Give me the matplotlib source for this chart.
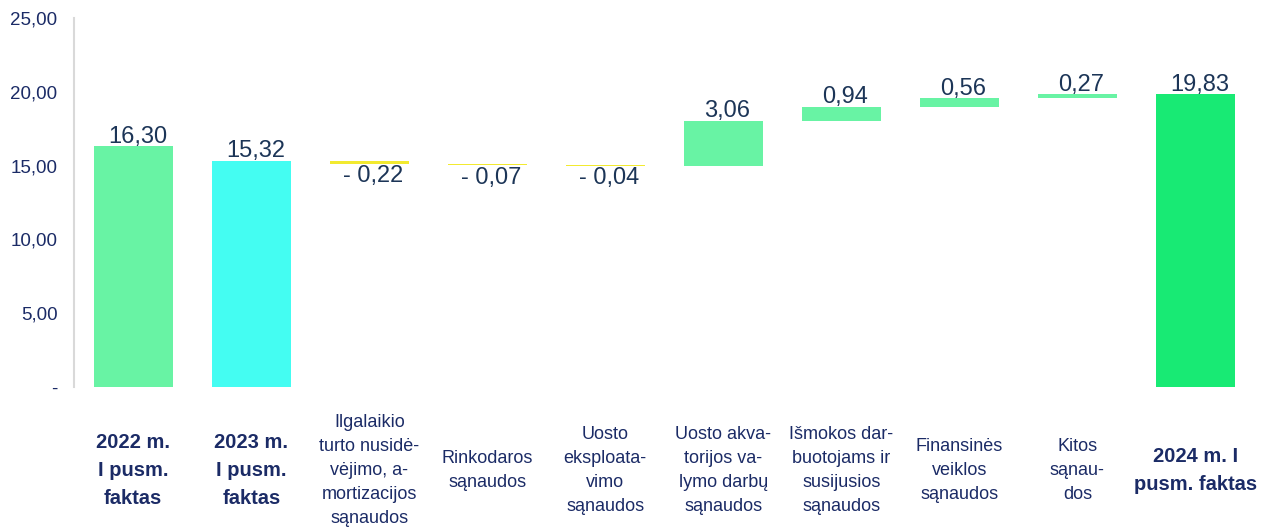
import matplotlib.pyplot as plt

categories = [
    "2022 m.\nI pusm.\nfaktas",
    "2023 m.\nI pusm.\nfaktas",
    "Ilgalaikio\nturto nusidė-\nvėjimo, a-\nmortizacijos\nsąnaudos",
    "Rinkodaros\nsąnaudos",
    "Uosto\neksploata-\nvimo\nsąnaudos",
    "Uosto akva-\ntorijos va-\nlymo darbų\nsąnaudos",
    "Išmokos dar-\nbuotojams ir\nsusijusios\nsąnaudos",
    "Finansinės\nveiklos\nsąnaudos",
    "Kitos\nsąnau-\ndos",
    "2024 m. I\npusm. faktas",
]
values = [16.30, 15.32, -0.22, -0.07, -0.04, 3.06, 0.94, 0.56, 0.27, 19.83]
is_total = [True, True, False, False, False, False, False, False, False, True]
bar_colors = ["#68F3A4", "#44FDF2", "#F2EA30", "#F2EA30", "#F2EA30",
              "#68F3A4", "#68F3A4", "#68F3A4", "#68F3A4", "#18EA74"]
yticks = [0, 5, 10, 15, 20, 25]
ytick_labels = ["-", "5,00", "10,00", "15,00", "20,00", "25,00"]

navy = "#1B2B66"
label_col = "#1C3557"
plt.rcParams['font.family'] = ['Liberation Sans', 'DejaVu Sans']

# waterfall bottoms
bottoms = []
running = 0.0
for i, v in enumerate(values):
    if is_total[i]:
        bottoms.append(0.0)
        running = v
    else:
        if v >= 0:
            bottoms.append(running)
        else:
            bottoms.append(running + v)
        running += v
heights = [abs(v) for v in values]

fig = plt.figure(figsize=(12.8, 5.32), dpi=100)
ax = fig.add_axes([0.058, 0.2726, 0.922, 0.6936])

x = list(range(len(values)))
ax.bar(x, heights, bottom=bottoms, width=0.67, color=bar_colors)

for i, v in enumerate(values):
    txt = f"{abs(v):.2f}".replace(".", ",")
    if v < 0:
        txt = "- " + txt
        ax.annotate(txt, (i, bottoms[i]), xytext=(3, -1), textcoords="offset points",
                    ha="center", va="top", fontsize=17, color=label_col)
    else:
        ax.annotate(txt, (i, bottoms[i] + heights[i]), xytext=(3, -1), textcoords="offset points",
                    ha="center", va="bottom", fontsize=17, color=label_col)

ax.set_xlim(-0.5, 9.5)
ax.set_ylim(0, 25)
ax.set_yticks(yticks)
ax.set_yticklabels(ytick_labels, fontsize=13.5, color=navy)
ax.set_xticks(x)
ax.set_xticklabels(categories, fontsize=13, color=navy, va="center",
                   multialignment="center", linespacing=1.55)
for lbl, tot in zip(ax.get_xticklabels(), is_total):
    if tot:
        lbl.set_fontweight("bold")
        lbl.set_fontsize(14.5)
        lbl.set_linespacing(1.6)
ax.tick_params(axis="x", length=0, pad=60)
ax.tick_params(axis="y", length=0, pad=12)

for s in ["top", "right", "bottom"]:
    ax.spines[s].set_visible(False)
ax.spines["left"].set_color("#D9D9D9")
ax.spines["left"].set_linewidth(1.5)

fig.savefig("out.png", dpi=100)
